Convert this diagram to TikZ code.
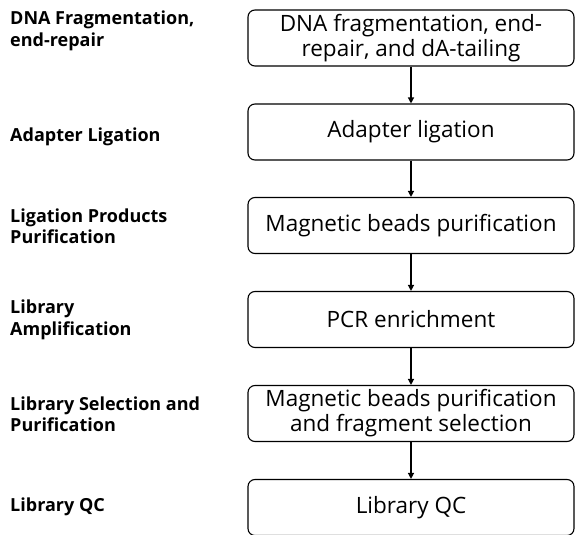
\documentclass[tikz,border=0pt]{standalone}
\usepackage{fontspec}
\setmainfont{Open Sans}
\usetikzlibrary{arrows.meta}
\begin{document}
\begin{tikzpicture}[x=1pt,y=-1pt,
  stepbox/.style={draw, line width=1.1pt, rounded corners=7pt, minimum width=326pt,
    minimum height=56pt, inner sep=0pt, align=center, font=\fontsize{22.5}{25}\selectfont},
  phase/.style={anchor=west, align=left, inner sep=0pt,
    font=\bfseries\fontsize{18}{21.5}\selectfont},
  flow/.style={line width=1.3pt, -{Triangle[length=6pt,width=6pt]}}]
\useasboundingbox (0,0) rectangle (576,535);
\node[stepbox] (s1) at (411,38)  {DNA fragmentation, end-\\repair, and dA-tailing};
\node[stepbox] (s2) at (411,132) {Adapter ligation};
\node[stepbox] (s3) at (411,225.5) {Magnetic beads purification};
\node[stepbox] (s4) at (411,319.5) {PCR enrichment};
\node[stepbox] (s5) at (411,413.5) {Magnetic beads purification\\and fragment selection};
\node[stepbox] (s6) at (411,507.5) {Library QC};
\foreach \a/\b in {s1/s2,s2/s3,s3/s4,s4/s5,s5/s6}
  \draw[flow] (\a) -- (\b);
\node[phase] (p1) at (10,31)  {DNA Fragmentation,\\end-repair};
\node[phase] (p2) at (10,137) {Adapter Ligation};
\node[phase] (p3) at (10,226) {Ligation Products\\Purification};
\node[phase] (p4) at (10,320) {Library\\Amplification};
\node[phase] (p5) at (10,414) {Library Selection and\\Purification};
\node[phase] (p6) at (10,507) {Library QC};
\end{tikzpicture}
\end{document}
